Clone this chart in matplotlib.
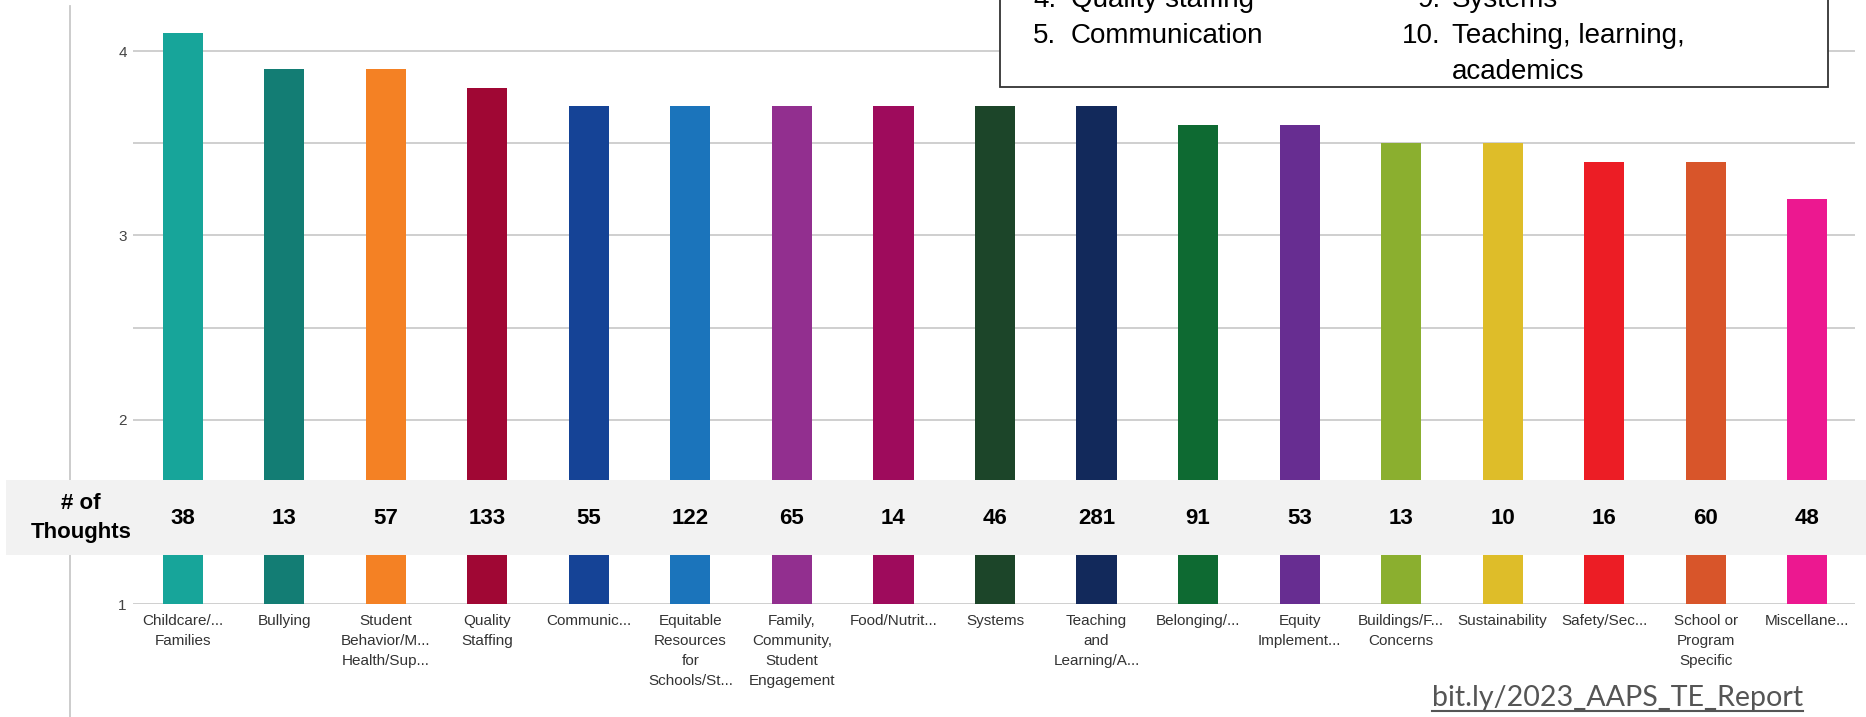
import matplotlib
matplotlib.use("Agg")
import matplotlib.pyplot as plt
from matplotlib.patches import Rectangle
from matplotlib.lines import Line2D
from matplotlib.transforms import blended_transform_factory

# data
categories = ["Childcare/...\nFamilies", "Bullying", "Student\nBehavior/M...\nHealth/Sup...",
              "Quality\nStaffing", "Communic...", "Equitable\nResources\nfor\nSchools/St...",
              "Family,\nCommunity,\nStudent\nEngagement", "Food/Nutrit...", "Systems",
              "Teaching\nand\nLearning/A...", "Belonging/...", "Equity\nImplement...",
              "Buildings/F...\nConcerns", "Sustainability", "Safety/Sec...",
              "School or\nProgram\nSpecific", "Miscellane..."]
scores = [4.1, 3.9, 3.9, 3.8, 3.7, 3.7, 3.7, 3.7, 3.7, 3.7, 3.6, 3.6, 3.5, 3.5, 3.4, 3.4, 3.2]
thoughts = [38, 13, 57, 133, 55, 122, 65, 14, 46, 281, 91, 53, 13, 10, 16, 60, 48]
colors = ["#17a59a", "#137d74", "#f48124", "#a00734", "#154396", "#1b74bb", "#922f8f",
          "#9e0b5c", "#1c4529", "#12295b", "#0e6a32", "#672d91", "#8baf2f", "#debd29",
          "#ec1d25", "#d8552a", "#ec1890"]
yticks = [1, 2, 3, 4]
legend_left = [("4.", "Quality staffing"), ("5.", "Communication")]
legend_right = [("9.", "Systems"), ("10.", "Teaching, learning,"), ("", "academics")]
link = "bit.ly/2023_AAPS_TE_Report"

plt.rcParams['font.family'] = ['Liberation Sans', 'DejaVu Sans']

W, H = 1866, 717
fig = plt.figure(figsize=(W / 100, H / 100), dpi=100)


def fx(px):
    return px / W


def fy(py):
    return 1 - py / H


ax = fig.add_axes([fx(133), fy(604), fx(1855) - fx(133), 1 - fy(604)])
x = range(len(categories))
ax.bar(x, scores, width=0.395, color=colors, linewidth=0, zorder=2)
ax.set_xlim(-0.49, 16.47)
ax.set_ylim(1, 4.277)
ax.set_yticks(yticks)
ax.set_yticks([1.5, 2.5, 3.5], minor=True)
ax.grid(axis='y', which='both', color='#cccccc', lw=1.3)
ax.set_axisbelow(True)
for s in ax.spines.values():
    s.set_visible(False)
ax.set_xticks(list(x))
ax.set_xticklabels(categories, linespacing=1.55)
ax.tick_params(axis='y', which='both', length=0, pad=4.5, labelsize=11, labelcolor='#444444')
ax.tick_params(axis='x', length=0, pad=7, labelsize=11, labelcolor='#333333')

# left vertical rule of the slide
fig.add_artist(Line2D([fx(70), fx(70)], [fy(6), 0], transform=fig.transFigure,
                      color='#c8c8c8', lw=1.3))

# grey band with counts
fig.add_artist(Rectangle((fx(6), fy(555)), 1 - fx(6), fy(480) - fy(555), transform=fig.transFigure,
                         facecolor='#f2f2f2', edgecolor='none', zorder=3))
trans = blended_transform_factory(ax.transData, fig.transFigure)
for i, n in enumerate(thoughts):
    fig.text(i, fy(518), str(n), transform=trans, ha='center', va='center',
             fontsize=16, fontweight='bold', color='black', zorder=4)
fig.text(fx(81), fy(518), "# of\nThoughts", ha='center', va='center', fontsize=16,
         fontweight='bold', linespacing=1.45, zorder=4)

# legend box in top right
fig.add_artist(Rectangle((fx(1000), fy(87)), fx(1828) - fx(1000), 1.2 - fy(87),
                         transform=fig.transFigure, facecolor='white', edgecolor='#333333',
                         lw=1.3, zorder=3))
baselines = [7, 43, 79]
for (num, txt), b in zip(legend_left, baselines):
    fig.text(fx(1056), fy(b), num, ha='right', va='baseline', fontsize=20, zorder=4)
    fig.text(fx(1071), fy(b), txt, ha='left', va='baseline', fontsize=20, zorder=4)
for (num, txt), b in zip(legend_right, baselines):
    if num:
        fig.text(fx(1441), fy(b), num, ha='right', va='baseline', fontsize=20, zorder=4)
    fig.text(fx(1452), fy(b), txt, ha='left', va='baseline', fontsize=20, zorder=4)

# link at bottom right, underlined
t = fig.text(fx(1432), fy(706), link, ha='left', va='baseline', fontsize=20,
             color='#555555', family='Lato')
r = fig.canvas.get_renderer()
bb = t.get_window_extent(r)
t.set_fontsize(20 * 371 / bb.width)
bb = t.get_window_extent(r)
fig.add_artist(Line2D([bb.x0 / W, bb.x1 / W], [fy(711), fy(711)], transform=fig.transFigure,
                      color='#555555', lw=1.5))

fig.savefig("out.png", dpi=100)
